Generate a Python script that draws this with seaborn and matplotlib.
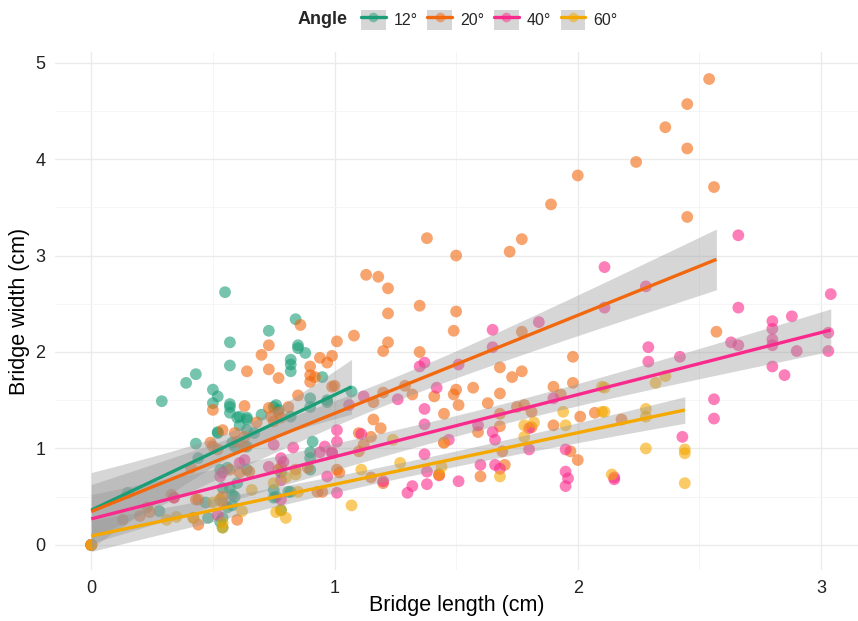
import numpy as np
import pandas as pd
import matplotlib
matplotlib.use("Agg")
import matplotlib.pyplot as plt
import seaborn as sns
from matplotlib.lines import Line2D
from matplotlib.patches import Rectangle
from matplotlib.legend_handler import HandlerTuple

angles = ["12°", "20°", "40°", "60°"]
colors = ["#1B9E77", "#F2680E", "#FA2A8C", "#F5A800"]

pts12 = [(0, 0), (0, 0), (0, 0), (0.55, 2.62), (0.84, 2.34), (0.73, 2.22), (0.57, 2.10), (0.85, 2.07),
         (0.85, 2.04),
         (0.88, 1.99), (0.57, 1.86), (0.82, 1.92), (0.82, 1.87), (0.82, 1.80), (0.95, 1.74), (0.43, 1.77),
         (0.39, 1.68), (0.29, 1.49), (0.50, 1.61), (0.52, 1.54), (0.50, 1.47), (0.57, 1.46), (0.57, 1.43),
         (0.57, 1.37), (0.76, 1.45), (0.90, 1.52), (0.97, 1.50), (0.61, 1.33), (0.64, 1.32), (0.15, 0.54),
         (0.28, 0.35), (0.43, 1.05), (0.44, 0.90), (0.60, 1.32), (0.64, 1.30), (0.61, 1.24), (0.52, 1.16),
         (0.58, 1.06), (0.64, 1.19), (0.67, 1.16), (0.70, 1.35), (0.75, 1.43), (0.77, 1.40), (0.82, 1.33),
         (0.90, 1.43), (0.97, 1.48), (0.91, 1.07), (0.90, 0.96), (1.07, 1.59), (0.64, 0.78), (0.53, 0.78),
         (0.56, 0.80), (0.60, 0.64), (0.57, 0.59), (0.54, 0.59), (0.59, 0.50), (0.58, 0.41), (0.56, 0.39),
         (0.54, 0.28), (0.47, 0.44), (0.48, 0.28), (0.54, 0.18), (0.75, 0.57), (0.76, 0.50), (0.78, 0.75),
         (0.82, 0.55), (0.90, 0.78), (0.90, 0.90), (0.53, 0.24), (0.58, 0.52), (0.59, 1.02), (0.64, 1.02),
         (0.75, 0.49), (0.78, 0.36), (0.81, 0.55), (0.52, 1.17)]

pts20 = [(0, 0), (2.54, 4.83), (2.45, 4.57), (2.36, 4.33), (2.45, 4.11), (2.24, 3.97), (2.00, 3.83),
         (2.56, 3.71), (1.89, 3.53), (2.45, 3.40), (1.38, 3.18), (1.77, 3.17), (1.50, 3.00), (1.72, 3.04),
         (1.13, 2.80), (1.18, 2.78), (1.22, 2.66), (1.22, 2.40), (1.35, 2.48), (1.50, 2.42), (1.08, 2.17),
         (1.22, 2.10), (1.20, 2.01), (1.49, 2.22), (1.77, 2.21), (1.35, 2.00), (1.98, 1.95), (2.57, 2.21),
         (1.01, 2.11), (0.99, 1.96), (1.68, 1.84), (1.73, 1.74), (1.77, 1.80), (1.98, 1.68), (1.90, 1.64),
         (1.93, 1.56), (1.57, 1.63), (1.50, 1.61), (1.49, 1.56), (1.51, 1.45), (1.41, 1.54), (1.29, 1.65),
         (1.32, 1.56), (1.20, 1.58), (1.16, 1.48), (1.00, 1.65), (1.45, 1.36), (1.63, 1.47), (1.68, 1.57),
         (1.68, 1.36), (1.75, 1.43), (1.78, 1.45), (1.81, 1.38), (1.16, 1.30), (1.19, 1.21), (1.15, 1.12),
         (1.10, 1.16), (1.59, 1.17), (1.68, 1.23), (1.81, 1.22), (1.90, 1.24), (2.01, 1.33), (2.07, 1.37),
         (2.18, 1.30), (1.12, 1.04), (1.10, 0.97), (1.69, 0.97), (1.97, 0.97), (2.00, 0.88), (1.60, 0.71),
         (1.01, 0.78), (1.02, 0.75), (1.15, 0.70), (1.20, 0.64), (1.43, 0.73), (1.70, 0.83),
         (0.86, 2.28), (0.94, 1.94), (0.97, 1.89), (0.73, 2.07), (0.70, 1.97), (0.64, 1.80), (0.73, 1.82),
         (0.77, 1.73), (0.90, 1.85), (0.90, 1.76), (0.92, 1.74), (0.90, 1.69), (0.99, 1.64), (0.85, 1.55),
         (0.50, 1.40), (0.63, 1.44), (0.73, 1.42), (0.74, 1.33), (0.77, 1.37), (0.75, 1.28), (0.78, 1.32),
         (0.81, 1.43), (0.54, 1.19), (0.59, 1.16), (0.63, 1.12), (0.68, 1.27), (0.49, 1.06), (0.50, 1.02),
         (0.52, 0.99), (0.60, 1.07), (0.63, 1.02), (0.41, 0.80), (0.57, 0.78), (0.61, 0.75), (0.65, 0.76),
         (0.77, 0.78), (0.84, 0.78), (0.89, 0.80), (0.44, 0.47), (0.53, 0.47), (0.54, 0.44), (0.23, 0.39),
         (0.24, 0.34), (0.13, 0.26), (0.42, 0.28), (0.44, 0.21), (0.60, 0.26), (0.95, 0.55), (0.78, 0.81),
         (0.33, 0.52), (0.34, 0.49), (0.43, 0.47), (0.54, 0.50), (0.93, 0.55), (0.20, 0.30)]

pts40 = [(0, 0), (1.65, 2.23), (1.65, 2.05), (1.37, 1.89), (1.35, 1.85), (1.51, 1.87), (1.42, 1.63),
         (1.12, 1.54), (1.06, 1.45), (1.26, 1.51), (1.37, 1.41), (1.90, 1.52), (1.37, 1.25), (1.59, 1.24),
         (1.65, 1.17), (1.66, 1.09), (1.01, 1.19), (1.01, 1.07), (1.11, 1.15), (1.45, 1.06), (1.47, 1.09),
         (1.80, 1.21), (1.80, 0.99), (1.95, 0.99), (1.37, 0.94), (1.60, 0.83), (1.66, 0.83), (1.68, 0.79),
         (1.38, 0.76), (1.95, 0.76), (1.96, 0.69), (1.95, 0.61), (1.51, 0.66), (1.38, 0.63), (1.32, 0.61),
         (1.30, 0.54), (1.43, 0.72), (1.20, 0.66), (2.15, 0.68), (0.99, 0.95),
         (1.84, 2.31), (2.11, 2.88), (2.28, 2.68), (2.11, 2.46), (2.29, 2.05), (2.42, 1.95), (2.66, 3.21),
         (2.66, 2.46), (2.63, 2.10), (2.66, 2.07), (2.29, 1.90), (2.80, 2.32), (2.80, 2.24), (2.80, 2.13),
         (2.80, 2.07), (2.88, 2.37), (2.90, 2.01), (2.80, 1.85), (2.85, 1.76), (3.04, 2.60), (3.03, 2.20),
         (3.03, 2.01), (2.56, 1.51), (2.56, 1.31), (2.43, 1.12), (2.15, 0.70),
         (0.96, 1.02), (0.99, 0.96), (0.94, 0.96), (0.83, 1.01), (0.78, 0.90), (0.79, 0.86), (0.75, 1.04),
         (0.63, 0.88), (0.61, 0.85), (0.54, 0.75), (0.53, 0.71), (0.78, 0.67), (0.78, 0.47), (0.34, 0.49),
         (0.52, 0.31), (1.01, 0.54), (0.97, 0.71), (0.73, 0.81)]

pts60 = [(0, 0), (0, 0), (0.31, 0.26), (0.35, 0.29), (0.42, 0.28), (0.50, 0.44), (0.53, 0.47),
         (0.54, 0.18), (0.54, 0.23), (0.62, 0.35), (0.66, 0.57), (0.75, 0.64), (0.80, 0.70), (0.84, 0.73),
         (0.76, 0.34), (0.80, 0.28), (0.78, 0.36), (0.85, 0.55), (1.07, 0.41), (1.11, 0.78), (1.43, 0.73),
         (1.44, 0.81), (1.45, 1.06), (1.68, 0.71), (1.78, 1.24), (1.78, 1.12), (1.82, 1.27), (1.94, 1.38),
         (1.95, 1.24), (2.10, 1.64), (2.10, 1.38), (2.14, 0.73), (1.24, 1.09), (1.27, 0.85), (2.28, 1.41),
         (2.28, 1.33), (2.36, 1.75), (2.32, 1.68), (2.11, 1.63), (2.11, 1.38), (2.28, 1.00), (2.44, 0.99),
         (2.44, 0.95), (2.44, 0.64)]

x_ticks = [0, 1, 2, 3]
y_ticks = [0, 1, 2, 3, 4, 5]

rows = []
for a, pts in zip(angles, [pts12, pts20, pts40, pts60]):
    for xv, yv in pts:
        rows.append((a, xv, yv))
df = pd.DataFrame(rows, columns=["Angle", "length", "width"])

sns.set_style("white")
plt.rcParams["font.family"] = ["Liberation Sans", "DejaVu Sans"]

W, H = 858, 621
fig = plt.figure(figsize=(W / 100, H / 100), dpi=100)
ax = fig.add_axes([55 / W, 1 - 570 / H, 1 - 55 / W, (570 - 52) / H])

sns.scatterplot(data=df, x="length", y="width", hue="Angle", hue_order=angles,
                palette=dict(zip(angles, colors)), s=72, alpha=0.6, edgecolor="none",
                legend=False, ax=ax, zorder=2)


def t975(df_):
    # Student t 97.5% quantile (approximation adequate for df > 30)
    z = 1.959964
    return z + (z ** 3 + z) / (4 * df_) + (5 * z ** 5 + 16 * z ** 3 + 3 * z) / (96 * df_ ** 2)


for a, c in zip(angles, colors):
    sub = df[df["Angle"] == a]
    xv = sub["length"].to_numpy(float)
    yv = sub["width"].to_numpy(float)
    n = len(xv)
    b1, b0 = np.polyfit(xv, yv, 1)
    resid = yv - (b0 + b1 * xv)
    s = np.sqrt((resid ** 2).sum() / (n - 2))
    grid = np.linspace(xv.min(), xv.max(), 100)
    se = s * np.sqrt(1 / n + (grid - xv.mean()) ** 2 / ((xv - xv.mean()) ** 2).sum())
    fit = b0 + b1 * grid
    tq = t975(n - 2)
    ax.fill_between(grid, fit - tq * se, fit + tq * se, color="#999999", alpha=0.4,
                    linewidth=0, zorder=3)
    sns.regplot(data=sub, x="length", y="width", scatter=False, color=c, ci=None,
                line_kws=dict(lw=2.4, zorder=4, solid_capstyle="butt"), ax=ax, truncate=True)

ax.set_xlim(-0.149, 3.152)
ax.set_ylim(-0.26, 5.11)
ax.set_xticks(x_ticks)
ax.set_yticks(y_ticks)
ax.set_xticklabels([str(t) for t in x_ticks])
ax.set_yticklabels([str(t) for t in y_ticks])
ax.set_xticks([0.5, 1.5, 2.5], minor=True)
ax.set_yticks([0.5, 1.5, 2.5, 3.5, 4.5], minor=True)
ax.grid(which="major", color="#EBEBEB", lw=1.0, zorder=0)
ax.grid(which="minor", color="#F5F5F5", lw=0.7, zorder=0)
ax.set_axisbelow(True)
ax.tick_params(which="major", direction="out", length=4, width=1, color="#4D4D4D",
               labelsize=13, labelcolor="#222222", pad=3)
ax.tick_params(which="minor", length=0)
for sp in ax.spines.values():
    sp.set_visible(False)

ax.set_xlabel("Bridge length (cm)", fontsize=15.5, color="black")
ax.set_ylabel("Bridge width (cm)", fontsize=15.5, color="black")
ax.xaxis.label.set_va("center")
ax.yaxis.label.set_va("center")
ax.xaxis.set_label_coords(0.5, -(606 - 570) / 518)
ax.yaxis.set_label_coords(-(55 - 20) / 803, 0.5)

handles = []
for c in colors:
    bg = Rectangle((0, 0), 1, 1, facecolor="#D6D6D6", edgecolor="none")
    ln = Line2D([], [], color=c, lw=2.4)
    mk = Line2D([], [], color=c, lw=0, marker="o", markersize=7, alpha=0.5, markeredgewidth=0)
    handles.append((bg, ln, mk))

fig.text(298 / W, 1 - 20 / H, "Angle", fontweight="bold", fontsize=13, va="center", ha="left")
fig.legend(handles, angles, handler_map={tuple: HandlerTuple(ndivide=1, pad=0)},
           loc="center left", bbox_to_anchor=(361 / W, 1 - 20 / H), ncol=4, frameon=False,
           fontsize=11.5, handlelength=1.55, handleheight=1.6, handletextpad=0.5,
           columnspacing=0.6, borderpad=0, borderaxespad=0)

fig.savefig("out.png", dpi=100)
